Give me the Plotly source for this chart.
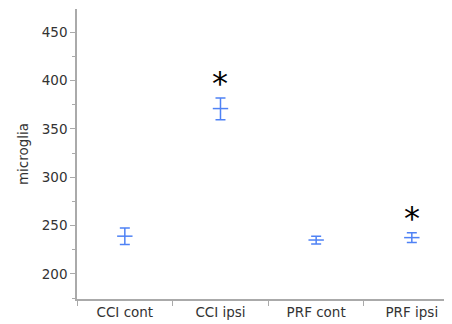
import plotly.graph_objects as go

categories = ["CCI cont", "CCI ipsi", "PRF cont", "PRF ipsi"]
means = [239, 371, 235, 237.5]
err_hi = [8.5, 11, 4, 5]
err_lo = [8.5, 11.5, 4, 5]
star_cats = ["CCI ipsi", "PRF ipsi"]
star_y = [397, 258]

blue = "#4f82f5"
fig = go.Figure()
fig.add_trace(go.Scatter(
    x=categories, y=means, mode="markers",
    marker=dict(symbol="line-ew", size=11, line=dict(color=blue, width=1.5)),
    error_y=dict(type="data", symmetric=False, array=err_hi, arrayminus=err_lo,
                 color=blue, thickness=1.5, width=5),
    showlegend=False, hoverinfo="skip"))
for c, y in zip(star_cats, star_y):
    fig.add_annotation(x=c, y=y, text="*", showarrow=False,
                       font=dict(size=32, color="black", family="DejaVu Sans"),
                       yanchor="middle")

axfont = dict(family="DejaVu Sans, Verdana, sans-serif", size=13.5, color="#333")
fig.update_layout(
    width=444, height=316, margin=dict(l=69, r=0, t=1, b=25, autoexpand=False),
    plot_bgcolor="white", paper_bgcolor="white",
    xaxis=dict(type="category", range=[-0.5, 3.42], showline=True, linecolor="#aaa",
               linewidth=1.5, ticks="outside", tickson="boundaries", ticklen=5,
               tickcolor="#aaa", tickfont=axfont, showgrid=False, zeroline=False),
    yaxis=dict(range=[174, 474], showline=True, linecolor="#aaa", linewidth=1.5,
               ticks="outside", ticklen=5, tickcolor="#aaa", dtick=50,
               tickfont=axfont, showgrid=False, zeroline=False,
               minor=dict(ticks="outside", ticklen=3, tickcolor="#aaa", dtick=25),
               title=dict(text="microglia", font=axfont, standoff=10)),
)
fig.write_html("out.html")
